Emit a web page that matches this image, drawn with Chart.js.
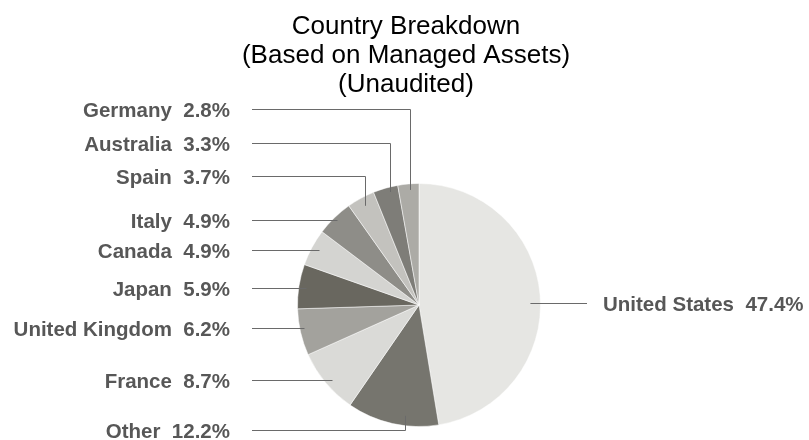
<!DOCTYPE html>
<html>
<head>
<meta charset="utf-8">
<script src="https://cdn.jsdelivr.net/npm/chart.js@4.4.1/dist/chart.umd.min.js"></script>
<style>
  html, body { margin: 0; padding: 0; background: #fff; }
  #wrap { width: 809px; height: 440px; position: relative; }
</style>
</head>
<body>
<div id="wrap"><canvas id="pie-chart"></canvas></div>
<script>
// data, clockwise from 12 o'clock
const countries = ['United States', 'Other', 'France', 'United Kingdom', 'Japan',
                   'Canada', 'Italy', 'Spain', 'Australia', 'Germany'];
const shares = [47.4, 12.2, 8.7, 6.2, 5.9, 4.9, 4.9, 3.7, 3.3, 2.8];
const sliceColors = ['#e6e6e3', '#76756e', '#dadad7', '#a3a29d', '#69675f',
                     '#d4d4d1', '#8e8d88', '#c3c2be', '#7e7d78', '#acaba6'];
const titleLines = ['Country Breakdown', '(Based on Managed Assets)', '(Unaudited)'];

// where each callout label sits (same order as countries)
// y = text baseline, f = fraction along the slice angle, k = fraction of the radius
const calloutLayout = [
  { side: 'right', y: 311, f: 0.5,  k: 0.92 },
  { side: 'left',  y: 438, f: 0.38, k: 0.92, elbow: true },
  { side: 'left',  y: 388, f: 0.5,  k: 0.93 },
  { side: 'left',  y: 336, f: 0.5,  k: 0.97 },
  { side: 'left',  y: 296, f: 0.5,  k: 0.94 },
  { side: 'left',  y: 258, f: 0.5,  k: 0.93 },
  { side: 'left',  y: 228, f: 0.5,  k: 0.97 },
  { side: 'left',  y: 184, f: 0.5,  k: 0.93, elbow: true },
  { side: 'left',  y: 151, f: 0.64, k: 0.96, elbow: true },
  { side: 'left',  y: 117, f: 0.55, k: 0.95, elbow: true }
];

const calloutPlugin = {
  id: 'callouts',
  afterDraw(chart) {
    const ctx = chart.ctx;
    const meta = chart.getDatasetMeta(0);

    // title
    ctx.save();
    ctx.fillStyle = '#000';
    ctx.font = '26px "Liberation Sans", Arial, sans-serif';
    ctx.textAlign = 'center';
    ctx.textBaseline = 'alphabetic';
    titleLines.forEach((t, i) => ctx.fillText(t, 406, 34 + i * 29));
    ctx.restore();

    ctx.save();
    ctx.strokeStyle = '#6a6a6a';
    ctx.lineWidth = 1;
    ctx.fillStyle = '#575757';
    ctx.font = 'bold 20.5px "Liberation Sans", Arial, sans-serif';
    ctx.textBaseline = 'alphabetic';

    meta.data.forEach((arc, i) => {
      const lay = calloutLayout[i];
      const a = arc.startAngle + (arc.endAngle - arc.startAngle) * lay.f;
      const r = arc.outerRadius * lay.k;
      const ax = arc.x + Math.cos(a) * r;
      const ay = arc.y + Math.sin(a) * r;
      const ly = lay.y - 8 + 0.5;
      const text = countries[i] + '  ' + shares[i].toFixed(1) + '%';

      ctx.beginPath();
      if (lay.side === 'right') {
        ctx.moveTo(ax, ly);
        ctx.lineTo(587, ly);
        ctx.stroke();
        ctx.textAlign = 'left';
        ctx.fillText(text, 603, lay.y);
      } else {
        ctx.moveTo(252, ly);
        ctx.lineTo(Math.round(ax) + 0.5, ly);
        if (lay.elbow) ctx.lineTo(Math.round(ax) + 0.5, ay);
        ctx.stroke();
        ctx.textAlign = 'right';
        ctx.fillText(text, 230, lay.y);
      }
    });
    ctx.restore();
  }
};

let ctx = document.getElementById('pie-chart').getContext('2d');
let chart = new Chart(ctx, {
  type: 'pie',
  data: {
    labels: countries,
    datasets: [{
      data: shares,
      backgroundColor: sliceColors,
      borderColor: 'rgba(255,255,255,0.5)',
      borderWidth: 1
    }]
  },
  options: {
    responsive: true,
    maintainAspectRatio: false,
    animation: false,
    layout: {
      padding: { left: 297, right: 268, top: 183, bottom: 13 }
    },
    plugins: {
      legend: { display: false },
      tooltip: { enabled: false },
      title: { display: false }
    }
  },
  plugins: [calloutPlugin]
});
</script>
</body>
</html>
